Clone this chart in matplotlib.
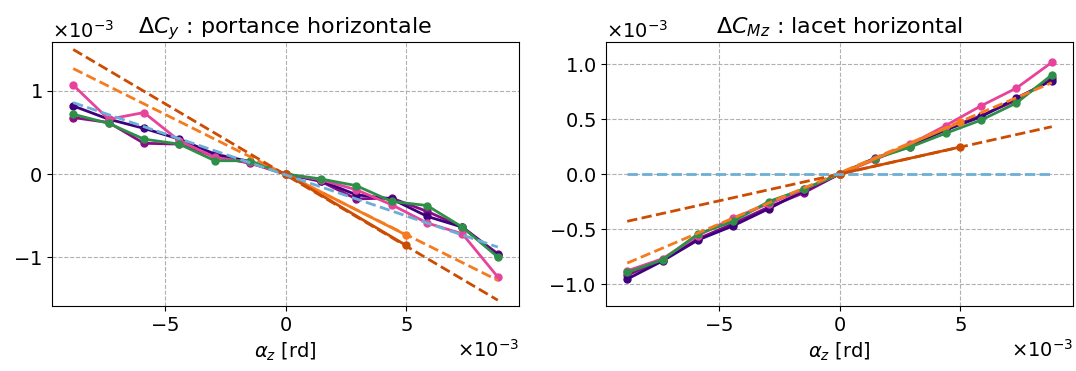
import numpy as np
import matplotlib
matplotlib.use('Agg')
import matplotlib.pyplot as plt
from matplotlib.ticker import ScalarFormatter

# abscisses (x1e-3 rd)
alpha = [-8.8, -7.33, -5.87, -4.4, -2.93, -1.47, 0.0, 1.47, 2.93, 4.4, 5.87, 7.33, 8.8]
alpha_lin = [0.0, 5.0]
alpha_ext = [-8.8, 8.8]

# portance horizontale dCy (x1e-3)
cy_indigo = [0.82, 0.66, 0.55, 0.42, 0.24, 0.15, 0.0, -0.08, -0.25, -0.30, -0.51, -0.64, -0.98]
cy_magenta = [0.68, 0.62, 0.37, 0.36, 0.21, 0.13, 0.0, -0.09, -0.30, -0.29, -0.45, -0.64, -0.96]
cy_pink = [1.07, 0.66, 0.74, 0.40, 0.20, 0.14, 0.0, -0.07, -0.19, -0.37, -0.59, -0.72, -1.24]
cy_green = [0.72, 0.61, 0.42, 0.36, 0.16, 0.16, 0.0, -0.06, -0.14, -0.33, -0.38, -0.64, -1.00]
cy_orange = [0.0, -0.735]
cy_orange_ext = [1.27, -1.28]
cy_dorange = [0.0, -0.86]
cy_dorange_ext = [1.50, -1.52]
cy_blue_ext = [0.86, -0.88]

# lacet horizontal dCMz (x1e-3)
cm_indigo = [-0.955, -0.79, -0.60, -0.47, -0.315, -0.15, 0.0, 0.14, 0.26, 0.40, 0.52, 0.69, 0.85]
cm_magenta = [-0.92, -0.78, -0.59, -0.45, -0.30, -0.17, 0.0, 0.145, 0.25, 0.41, 0.53, 0.67, 0.87]
cm_pink = [-0.88, -0.77, -0.56, -0.40, -0.27, -0.14, 0.0, 0.13, 0.27, 0.44, 0.62, 0.78, 1.015]
cm_green = [-0.895, -0.78, -0.545, -0.43, -0.25, -0.136, 0.0, 0.14, 0.245, 0.37, 0.49, 0.645, 0.90]
cm_orange = [0.0, 0.47]
cm_orange_ext = [-0.81, 0.83]
cm_dorange = [0.0, 0.245]
cm_dorange_ext = [-0.43, 0.43]
cm_blue_ext = [0.0, 0.0]

c_indigo = '#3f007d'
c_magenta = '#8a0c84'
c_pink = '#e7439b'
c_green = '#2e9048'
c_orange = '#f67a1e'
c_dorange = '#cc4c02'
c_blue = '#6baed6'

plt.rcParams['font.size'] = 14


def tracer(ax, curves, lin, blue, title, ylim, yticks):
    x = np.array(alpha) * 1e-3
    for y, col in curves:
        ax.plot(x, np.array(y) * 1e-3, '-o', color=col, lw=2, ms=5)
    for y, y_ext, col in lin:
        ax.plot(np.array(alpha_lin) * 1e-3, np.array(y) * 1e-3, '-o', color=col, lw=2, ms=5)
        ax.plot(np.array(alpha_ext) * 1e-3, np.array(y_ext) * 1e-3, '--', color=col, lw=2)
    ax.plot(np.array(alpha_ext) * 1e-3, np.array(blue) * 1e-3, '--', color=c_blue, lw=2)
    ax.set_title(title, fontsize=16)
    ax.set_xlabel(r'$\alpha_z$ [rd]', fontsize=14)
    ax.set_xlim(-9.68e-3, 9.68e-3)
    ax.set_ylim(ylim[0] * 1e-3, ylim[1] * 1e-3)
    ax.set_xticks([-5e-3, 0, 5e-3])
    ax.set_yticks(np.array(yticks) * 1e-3)
    ax.tick_params(labelsize=14)
    for axis in (ax.xaxis, ax.yaxis):
        fmt = ScalarFormatter(useMathText=True)
        fmt.set_powerlimits((-2, 2))
        axis.set_major_formatter(fmt)
    ax.grid(True, linestyle='--', color='#b0b0b0')


fig = plt.figure(figsize=(10.76, 3.71), dpi=100)
ax1 = fig.add_axes([52 / 1076, 1 - 306 / 371, 467 / 1076, 264 / 371])
ax2 = fig.add_axes([606 / 1076, 1 - 306 / 371, 467 / 1076, 264 / 371])

tracer(ax1,
       [(cy_magenta, c_magenta), (cy_indigo, c_indigo), (cy_pink, c_pink), (cy_green, c_green)],
       [(cy_orange, cy_orange_ext, c_orange), (cy_dorange, cy_dorange_ext, c_dorange)],
       cy_blue_ext, r'$\Delta C_y$ : portance horizontale', (-1.59, 1.59), [-1, 0, 1])
tracer(ax2,
       [(cm_magenta, c_magenta), (cm_indigo, c_indigo), (cm_pink, c_pink), (cm_green, c_green)],
       [(cm_orange, cm_orange_ext, c_orange), (cm_dorange, cm_dorange_ext, c_dorange)],
       cm_blue_ext, r'$\Delta C_{Mz}$ : lacet horizontal', (-1.2, 1.2), [-1.0, -0.5, 0.0, 0.5, 1.0])

fig.savefig('out.png', dpi=100)
